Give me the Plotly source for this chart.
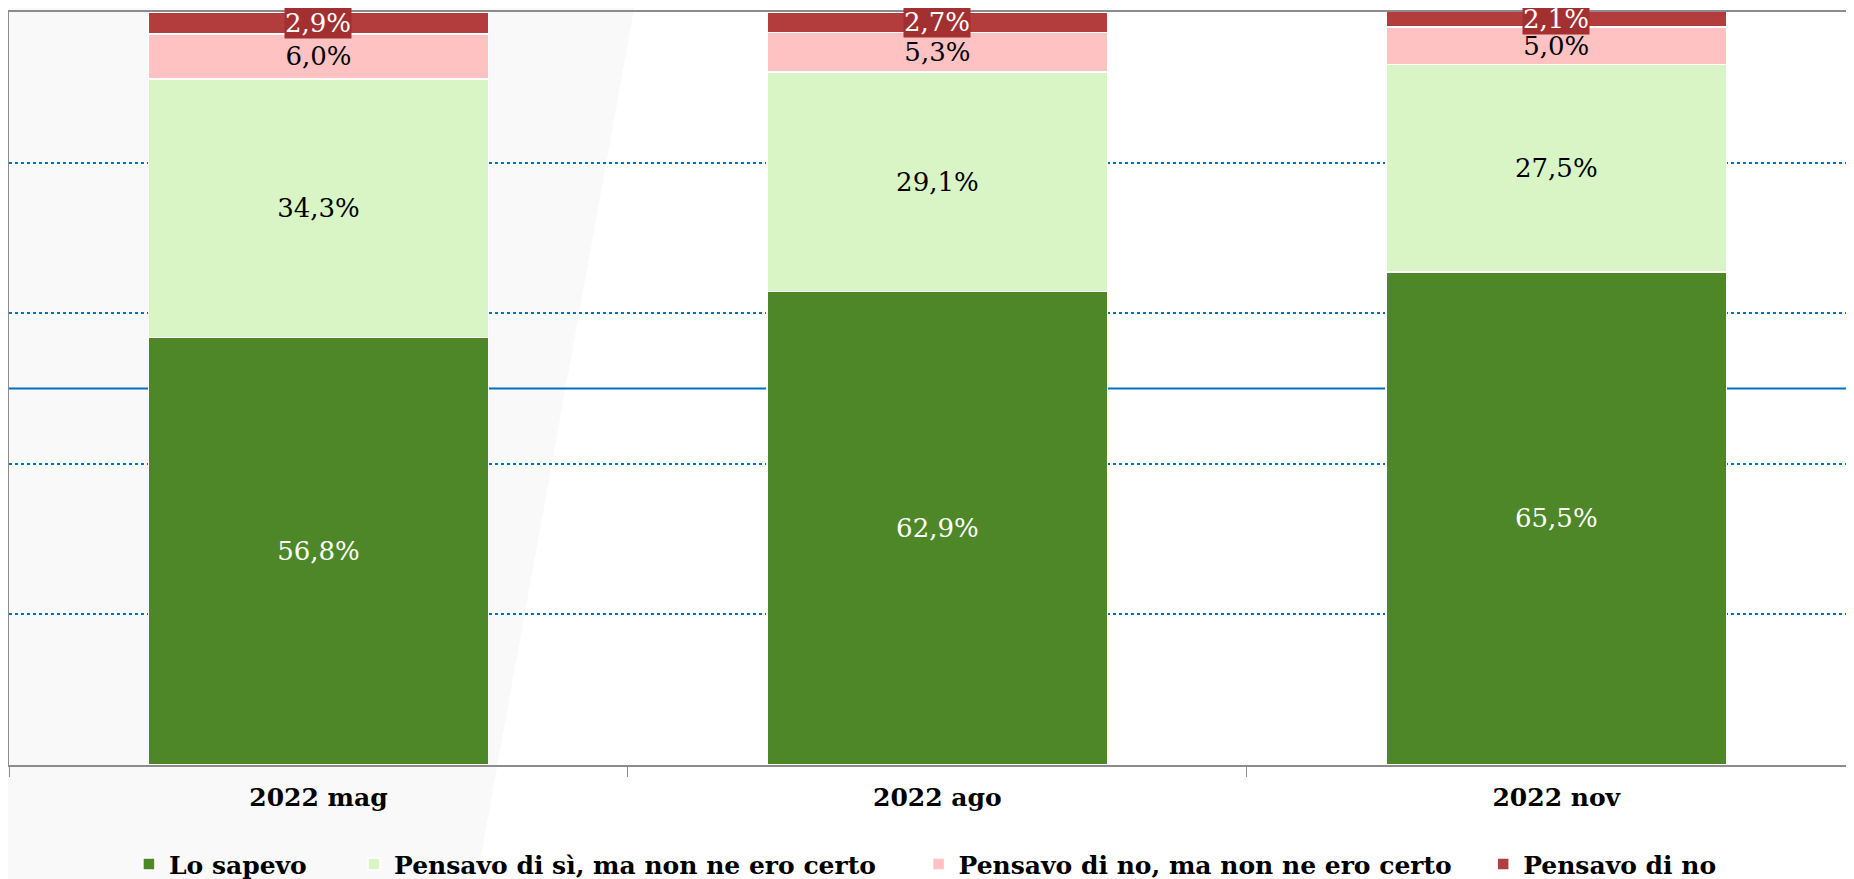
import plotly.graph_objects as go

# survey waves
periods = ['2022 mag', '2022 ago', '2022 nov']

# answer shares (%)
lo_sapevo = [56.8, 62.9, 65.5]
pensavo_si = [34.3, 29.1, 27.5]
pensavo_no_incerto = [6.0, 5.3, 5.0]
pensavo_no = [2.9, 2.7, 2.1]

series_names = ['Lo sapevo', 'Pensavo di sì, ma non ne ero certo',
                'Pensavo di no, ma non ne ero certo', 'Pensavo di no']

grid_ticks = [20, 40, 60, 80]
ref_line = 50

colors = ['#4e8727', '#d9f5c6', '#ffc2c2', '#b33c3c']
label_colors = ['white', 'black', 'black', 'white']

SERIF = 'DejaVu Serif'

# one legend per series so the entries can be spread like the original
legend_ids = ['legend', 'legend2', 'legend3', 'legend4']
legend_x = [0.065, 0.187, 0.493, 0.799]

fig = go.Figure()

all_series = [lo_sapevo, pensavo_si, pensavo_no_incerto, pensavo_no]
for i, (name, vals) in enumerate(zip(series_names, all_series)):
    last = i == len(all_series) - 1
    fig.add_trace(go.Bar(
        x=periods,
        y=vals,
        name=name,
        legend=legend_ids[i],
        marker=dict(color=colors[i], line=dict(color='white', width=1.5)),
        width=0.55,
        texttemplate='' if last else '%{y:.1f}%',
        textposition='none' if last else 'inside',
        insidetextanchor='middle',
        insidetextfont=dict(family=SERIF, size=26, color=label_colors[i]),
        constraintext='none',
        hoverinfo='skip',
    ))

# labels for the thin top segment, with a dark box behind
for p, a, b, c, d in zip(periods, lo_sapevo, pensavo_si, pensavo_no_incerto, pensavo_no):
    fig.add_annotation(
        x=p, y=a + b + c + d / 2, xref='x', yref='y',
        text=f'{d:.1f}%'.replace('.', ','),
        showarrow=False,
        font=dict(family=SERIF, size=26, color='white'),
        bgcolor='#a33030',
        borderpad=0,
    )

# faint grey wash on the left of the slide background
fig.add_shape(type='path', xref='paper', yref='paper',
              path='M -0.01 -0.2 L -0.01 1.02 L 0.34 1.02 L 0.25 -0.2 Z',
              fillcolor='#f9f9f9', line=dict(width=0), layer='below')

fig.add_shape(type='line', xref='paper', x0=0, x1=1, yref='y', y0=ref_line, y1=ref_line,
              line=dict(color='#0070c0', width=2), layer='below')

legend_style = dict(
    orientation='h', yref='container', y=0.017, yanchor='middle', xanchor='left',
    font=dict(family=SERIF, size=25, color='black', weight='bold'),
    itemclick=False, itemdoubleclick=False,
    bgcolor='rgba(0,0,0,0)',
)

fig.update_layout(
    barmode='stack',
    separators=',.',
    width=1846, height=871,
    margin=dict(l=1, r=0, t=4, b=114),
    paper_bgcolor='white',
    plot_bgcolor='rgba(0,0,0,0)',
    showlegend=True,
    xaxis=dict(
        range=[-0.5, 2.481],
        showline=True, linecolor='#8c8c8c', linewidth=2, mirror=True,
        ticks='outside', tickson='boundaries', ticklen=10, tickcolor='#8c8c8c',
        tickfont=dict(family=SERIF, size=25, color='black', weight='bold'),
        ticklabelstandoff=9,
        showgrid=False,
    ),
    yaxis=dict(
        range=[0, 100],
        tickvals=grid_ticks,
        showticklabels=False,
        showgrid=True, gridcolor='#0070c0', gridwidth=1.5, griddash='dot',
        showline=True, linecolor='#8c8c8c', linewidth=3,
        zeroline=False,
    ),
)

for lid, lx in zip(legend_ids, legend_x):
    fig.update_layout({lid: dict(legend_style, x=lx)})

fig.write_html('out.html')
